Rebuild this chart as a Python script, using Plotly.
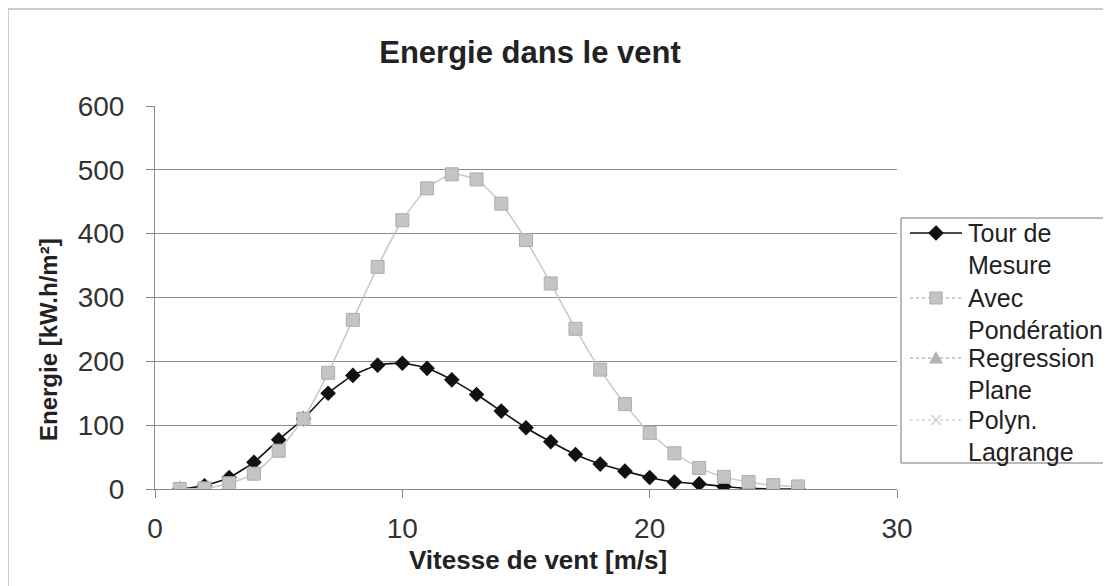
import plotly.graph_objects as go

vitesse = list(range(1, 27))
tour_de_mesure = [0, 5, 18, 42, 77, 110, 150, 178, 194, 197, 189, 171, 148, 122,
                  96, 74, 54, 39, 28, 18, 11, 8, 4, 1, 0, 0]
avec_ponderation = [0, 1, 9, 24, 60, 110, 182, 265, 348, 421, 471, 493, 485, 447,
                    390, 322, 251, 187, 133, 88, 56, 33, 19, 11, 6, 4]

series_names = [["Tour de", "Mesure"], ["Avec", "Pondération"],
                ["Regression", "Plane"], ["Polyn.", "Lagrange"]]
x_ticks = [0, 10, 20, 30]
y_ticks = [0, 100, 200, 300, 400, 500, 600]

fig = go.Figure()
fig.add_trace(go.Scatter(
    x=vitesse, y=tour_de_mesure, name="Tour de Mesure", mode="lines+markers",
    line=dict(color="#111111", width=1.6, shape="spline", smoothing=0.6),
    marker=dict(symbol="diamond", size=12, color="#111111"), showlegend=False,
))
fig.add_trace(go.Scatter(
    x=vitesse, y=avec_ponderation, name="Avec Pondération", mode="lines+markers",
    line=dict(color="#c8c8c8", width=1.5, shape="spline", smoothing=0.6),
    marker=dict(symbol="square", size=13, color="#c4c4c4",
                line=dict(color="#adadad", width=1)), showlegend=False,
))

font_family = "Liberation Sans, Arial, sans-serif"
OFF = 8  # browser body margin
W, H = 1111 - OFF, 586 - OFF
PL, PR, PT, PB = 155, 897, 106, 489  # plot area in page pixels


def px(X):
    return (X - PL) / (PR - PL)


def py(Y):
    return (PB - Y) / (PB - PT)


shapes = [
    # outer chart frame (left and top edges only visible)
    dict(type="line", xref="paper", yref="paper", x0=px(8), x1=px(8), y0=py(600), y1=py(9),
         line=dict(color="#999999", width=1), layer="below"),
    dict(type="line", xref="paper", yref="paper", x0=px(8), x1=px(1130), y0=py(9), y1=py(9),
         line=dict(color="#999999", width=1), layer="below"),
    # legend box
    dict(type="rect", xref="paper", yref="paper", x0=px(901), x1=px(1110), y0=py(463), y1=py(218),
         line=dict(color="#777777", width=1), fillcolor="white"),
]
annotations = []

legend_rows = [233, 298, 358, 420]
sym_cx = 936
line_styles = [
    dict(color="#111111", width=1.6),
    dict(color="#c0c0c0", width=1.4, dash="dot"),
    dict(color="#b8b8b8", width=1.4, dash="dot"),
    dict(color="#d4d4d4", width=1.4, dash="dot"),
]
marker_paths = [
    ("M0,7 L7,0 L0,-7 L-7,0 Z", "#111111", "#111111"),
    ("M-6,-6 L6,-6 L6,6 L-6,6 Z", "#c4c4c4", "#adadad"),
    ("M-6,-5 L6,-5 L0,6 Z", "#b4b4b4", "#b4b4b4"),
    ("M-5,-5 L5,5 M-5,5 L5,-5", "rgba(0,0,0,0)", "#c8c8c8"),
]
for i, yrow in enumerate(legend_rows):
    common = dict(xref="paper", yref="paper", xsizemode="pixel", ysizemode="pixel",
                  xanchor=px(sym_cx), yanchor=py(yrow))
    shapes.append(dict(type="line", x0=-26, x1=26, y0=0, y1=0, line=line_styles[i], **common))
    path, fill, edge = marker_paths[i]
    shapes.append(dict(type="path", path=path, fillcolor=fill,
                       line=dict(color=edge, width=1.2), **common))
    for j, txt in enumerate(series_names[i]):
        annotations.append(dict(
            text=txt, xref="paper", yref="paper", x=px(966), y=py(yrow + j * 31.5),
            xanchor="left", yanchor="middle", showarrow=False,
            font=dict(size=25, color="#222222", family=font_family),
        ))

annotations.append(dict(
    text="<b>Vitesse de vent [m/s]</b>", xref="paper", yref="paper",
    x=px(538), y=py(560), xanchor="center", yanchor="middle", showarrow=False,
    font=dict(size=26, color="#222222", family=font_family),
))
annotations.append(dict(
    text="<b>Energie [kW.h/m²]</b>", xref="paper", yref="paper", textangle=-90,
    x=px(48), y=py(340), xanchor="center", yanchor="middle", showarrow=False,
    font=dict(size=24, color="#222222", family=font_family),
))

fig.update_layout(
    width=W, height=H,
    margin=dict(l=PL - OFF, r=1111 - PR, t=PT - OFF, b=586 - PB, pad=0),
    paper_bgcolor="white", plot_bgcolor="white",
    font=dict(family=font_family, color="#222222"),
    showlegend=False,
    title=dict(text="<b>Energie dans le vent</b>", x=(530 - OFF) / W, xanchor="center",
               y=1 - (52 - OFF) / H, yanchor="middle", font=dict(size=31, color="#222222")),
    xaxis=dict(
        range=[0, 30], tickvals=x_ticks, showgrid=False, zeroline=False,
        showline=True, linecolor="#888888", linewidth=1,
        ticks="outside", ticklen=8, tickcolor="#888888",
        tickfont=dict(size=28, color="#333333"), ticklabelstandoff=6,
    ),
    yaxis=dict(
        range=[0, 600], tickvals=y_ticks,
        showgrid=True, gridcolor="#8a8a8a", gridwidth=1, zeroline=False,
        showline=True, linecolor="#888888", linewidth=1,
        ticks="outside", ticklen=8, tickcolor="#888888",
        tickfont=dict(size=28, color="#333333"), ticklabelstandoff=16,
    ),
    shapes=shapes,
    annotations=annotations,
)

fig.write_html("out.html")
